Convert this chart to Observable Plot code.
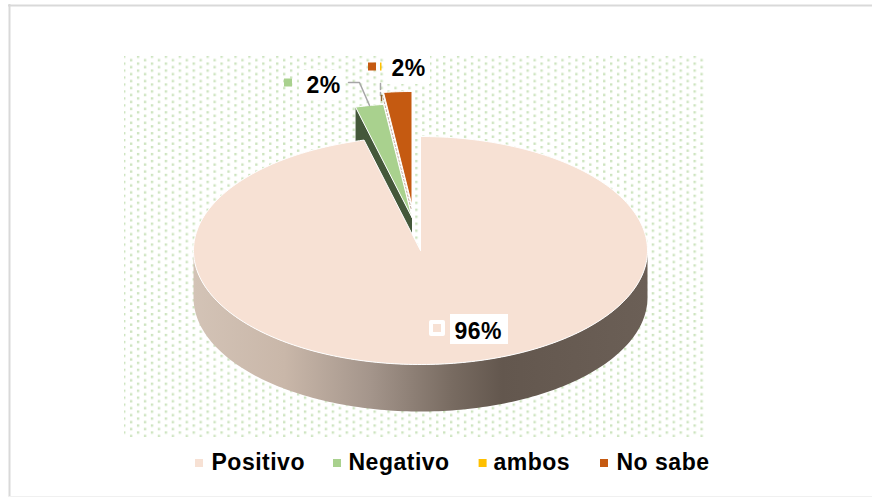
<!DOCTYPE html>
<html>
<head>
<meta charset="utf-8">
<script src="https://cdn.jsdelivr.net/npm/d3@7"></script>
<script src="https://cdn.jsdelivr.net/npm/@observablehq/plot@0.6"></script>
<style>html,body{margin:0;padding:0;background:#fff}svg{display:block}</style>
</head>
<body>
<div id="chart"></div>
<script>
const categories = ["Positivo", "Negativo", "ambos", "No sabe"];
const shares = [96, 2, 0, 2];
const sliceColors = ["#f7e1d4", "#a9d18e", "#ffc000", "#c55a11"];
const wallColors = ["url(#wall)", "#44583a", "#ffc000", "#ffffff"];
const shown = ["96%", "2%", "", "2%"];

// Pie layout, in pixels: the scales below map unit-circle coordinates onto this ellipse.
const cx = 420, cy = 250, rx = 227, ry = 114, depth = 47 / 114;
const explodeX = [0, -8.5 / 227, -9.5 / 227, -8.5 / 227];
const explodeY = [0, 33 / 114, 42 / 114, 45 / 114];
const X = (px) => (px - cx) / rx;
const Y = (py) => (cy - py) / ry;

const pie = d3.pie().sort(null).value((d) => d.share)(
  categories.map((name, i) => ({name, share: shares[i], i}))
);

function arcPoints(a0, a1, drop = 0, ex = 0, ey = 0) {
  const n = Math.max(2, Math.ceil(Math.abs(a1 - a0) / 0.02));
  return d3.range(n + 1).map((k) => {
    const a = a0 + (a1 - a0) * k / n;
    return [Math.sin(a) + ex, Math.cos(a) + ey - drop];
  });
}
function poly(pts, name) {
  return pts.map(([x, y]) => ({x, y, name}));
}

const tops = [], walls = [];
let ambosEdge = [];
for (const s of pie) {
  const i = s.data.i;
  const ex = explodeX[i], ey = explodeY[i];
  const tip = [ex, ey];
  if (!s.data.share) {
    // a zero share leaves only a hairline edge between its neighbours
    ambosEdge = poly([tip, [Math.sin(s.startAngle) + ex, Math.cos(s.startAngle) + ey]], s.data.name);
    continue;
  }
  // slices run clockwise from 12 o'clock; the big one starts straight up
  const arc = arcPoints(s.startAngle, s.endAngle, 0, ex, ey);
  tops[i] = poly([tip, ...arc, tip], s.data.name);
  if (i === 0) {
    const a0 = Math.PI / 2, a1 = 3 * Math.PI / 2;
    walls[i] = poly([...arcPoints(a0, a1), ...arcPoints(a1, a0, depth)], s.data.name);
  } else {
    // cut face on the leading side of an exploded slice
    const end = [Math.sin(s.startAngle) + ex, Math.cos(s.startAngle) + ey];
    walls[i] = poly([tip, end, [end[0], end[1] - depth], [ex, ey - depth], tip], s.data.name);
  }
}

const defs = () => {
  const d = d3.create("svg:defs");
  const g = d.append("linearGradient").attr("id", "wall");
  [[0, "#d3c3b6"], [0.2, "#c9b7a9"], [0.39, "#a4958b"], [0.57, "#786b61"], [0.68, "#63574e"], [1, "#6b5f56"]]
    .forEach(([o, c]) => g.append("stop").attr("offset", o).attr("stop-color", c));
  const p = d.append("pattern").attr("id", "dots").attr("patternUnits", "userSpaceOnUse")
    .attr("width", 13.914).attr("height", 6.96).attr("patternTransform", "translate(123 55.5)");
  [[0, 0], [6.957, 3.48]].forEach(([x, y]) =>
    p.append("rect").attr("x", x).attr("y", y).attr("width", 2.4).attr("height", 2.4).attr("fill", "#cde4bf"));
  return d.node();
};

const lineOpts = (fill, stroke, sw = 0) => ({x: "x", y: "y", fill, stroke: stroke ?? "none", strokeWidth: sw});
const box = (x1, x2, y1, y2, fill, r = 0) =>
  Plot.rect([{}], {x1: () => X(x1), x2: () => X(x2), y1: () => Y(y1), y2: () => Y(y2), fill, r});
const font = {fontFamily: "Liberation Sans, Arial, sans-serif", fontWeight: "bold", fill: "#000"};
const label = (text, x, y, size, anchor = "start") =>
  Plot.text([text], {x: () => X(x), y: () => Y(y), text: (d) => d, fontSize: size, textAnchor: anchor, lineAnchor: "middle", ...font});

const legendXs = [199, 337, 482.6, 604];
const legendTextXs = [211, 348, 493, 616];
const legendY = 463;
const legendTextY = 462;
const swatch = 8;

const marks = [
  defs,
  // chart border
  Plot.ruleY([Y(5)], {x1: X(8), x2: X(872), stroke: "#d9d9d9", strokeWidth: 2}),
  Plot.ruleX([X(9)], {y1: Y(4), y2: Y(497), stroke: "#d9d9d9", strokeWidth: 2}),
  Plot.ruleY([Y(496)], {x1: X(8), x2: X(872), stroke: "#f0f0f0", strokeWidth: 1}),
  // dotted plot background
  box(124, 704, 56, 437, "url(#dots)"),
  // pie
  Plot.line(walls[3], lineOpts(wallColors[3])),
  Plot.line(tops[3], lineOpts(sliceColors[3], "#fff", 1)),
  Plot.line(ambosEdge, {x: "x", y: "y", stroke: "#bfa99a", strokeWidth: 1, strokeDasharray: "2 2"}),
  Plot.line(walls[1], lineOpts(wallColors[1])),
  Plot.line(tops[1], lineOpts(sliceColors[1], "#fff", 1)),
  Plot.line(walls[0], lineOpts(wallColors[0])),
  Plot.line(tops[0], lineOpts(sliceColors[0], "#fff", 1)),
  // leader lines
  Plot.line([[348, 82], [359, 82], [369, 105]].map(([x, y]) => ({x: X(x), y: Y(y)})), {x: "x", y: "y", stroke: "#a6a6a6", strokeWidth: 1.5}),
  Plot.line([[380, 83], [380, 95]].map(([x, y]) => ({x: X(x), y: Y(y)})), {x: "x", y: "y", stroke: "#a6a6a6", strokeWidth: 1.5, strokeDasharray: "6 3"}),
  Plot.line([[381, 95], [381, 100]].map(([x, y]) => ({x: X(x), y: Y(y)})), {x: "x", y: "y", stroke: "#8a6a30", strokeWidth: 1.5}),
  // data labels
  box(299, 345, 70, 100, "#fff"),
  box(385, 430, 53, 84, "#fff"),
  box(450, 508, 314, 344, "#fff"),
  box(429, 445, 320, 336, "#fff", 2),
  box(433, 441, 324, 332, sliceColors[0]),
  box(284, 292, 78.5, 86.5, sliceColors[1]),
  box(368, 376, 62.5, 70.5, sliceColors[3]),
  box(380, 381.5, 62.5, 70.5, sliceColors[2]),
  label(shown[1], 306, 85, 23),
  label(shown[3], 391, 68, 23),
  label(shown[0], 454, 331, 23),
  // legend
  ...categories.flatMap((name, i) => [
    box(legendXs[i] - swatch / 2, legendXs[i] + swatch / 2, legendY - swatch / 2, legendY + swatch / 2, sliceColors[i]),
    label(name, legendTextXs[i], legendTextY, 23)
  ])
];

const plot = Plot.plot({
  width: 872,
  height: 497,
  margin: 0,
  style: {background: "#fff", letterSpacing: "0.5px"},
  x: {domain: [-1, 1], range: [cx - rx, cx + rx], axis: null},
  y: {domain: [-1, 1], range: [cy + ry, cy - ry], axis: null},
  marks
});
document.getElementById("chart").append(plot);
</script>
</body>
</html>
